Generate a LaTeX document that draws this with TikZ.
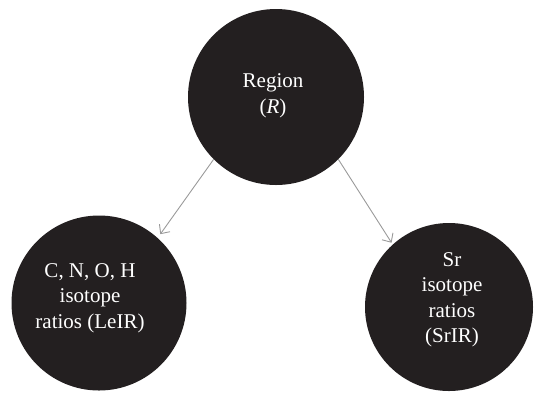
\documentclass[tikz,border=0pt]{standalone}
\usepackage{fontspec}
\setmainfont{Liberation Serif}
\usetikzlibrary{arrows.meta,calc}
\definecolor{blob}{HTML}{231F20}
\definecolor{conn}{HTML}{9A9A9A}
\tikzset{
  blobnode/.style={circle,fill=blob,draw=none,inner sep=0pt},
  blobtext/.style={text=white,align=center,font=\fontsize{21}{25.5}\selectfont,inner sep=0pt},
  connector/.style={draw=conn,line width=0.9pt,-{Straight Barb[length=7pt,width=13pt,line width=0.9pt]}}
}
\begin{document}
\begin{tikzpicture}[x=1pt,y=-1pt]
\useasboundingbox (0,0) rectangle (534,392);
\node[blobnode,minimum size=176pt] (R) at (276,97) {};
\node[blobnode,minimum size=175pt] (L) at (99,303) {};
\node[blobnode,minimum size=168pt] (S) at (449,307) {};
\node[blobtext] (Rt) at ($(R)+(-3,-1)$) {Region\\(\textit{R})};
\node[blobtext] (Lt) at ($(L)+(-9,-5)$) {C, N, O, H\\isotope\\ratios (LeIR)};
\node[blobtext] (St) at ($(S)+(3,-7)$) {Sr\\isotope\\ratios\\(SrIR)};
\draw[connector,shorten >=4.5pt] (R.225) -- (L.48);
\draw[connector,shorten >=2pt] (R.-45) -- (S.132);
\end{tikzpicture}
\end{document}
